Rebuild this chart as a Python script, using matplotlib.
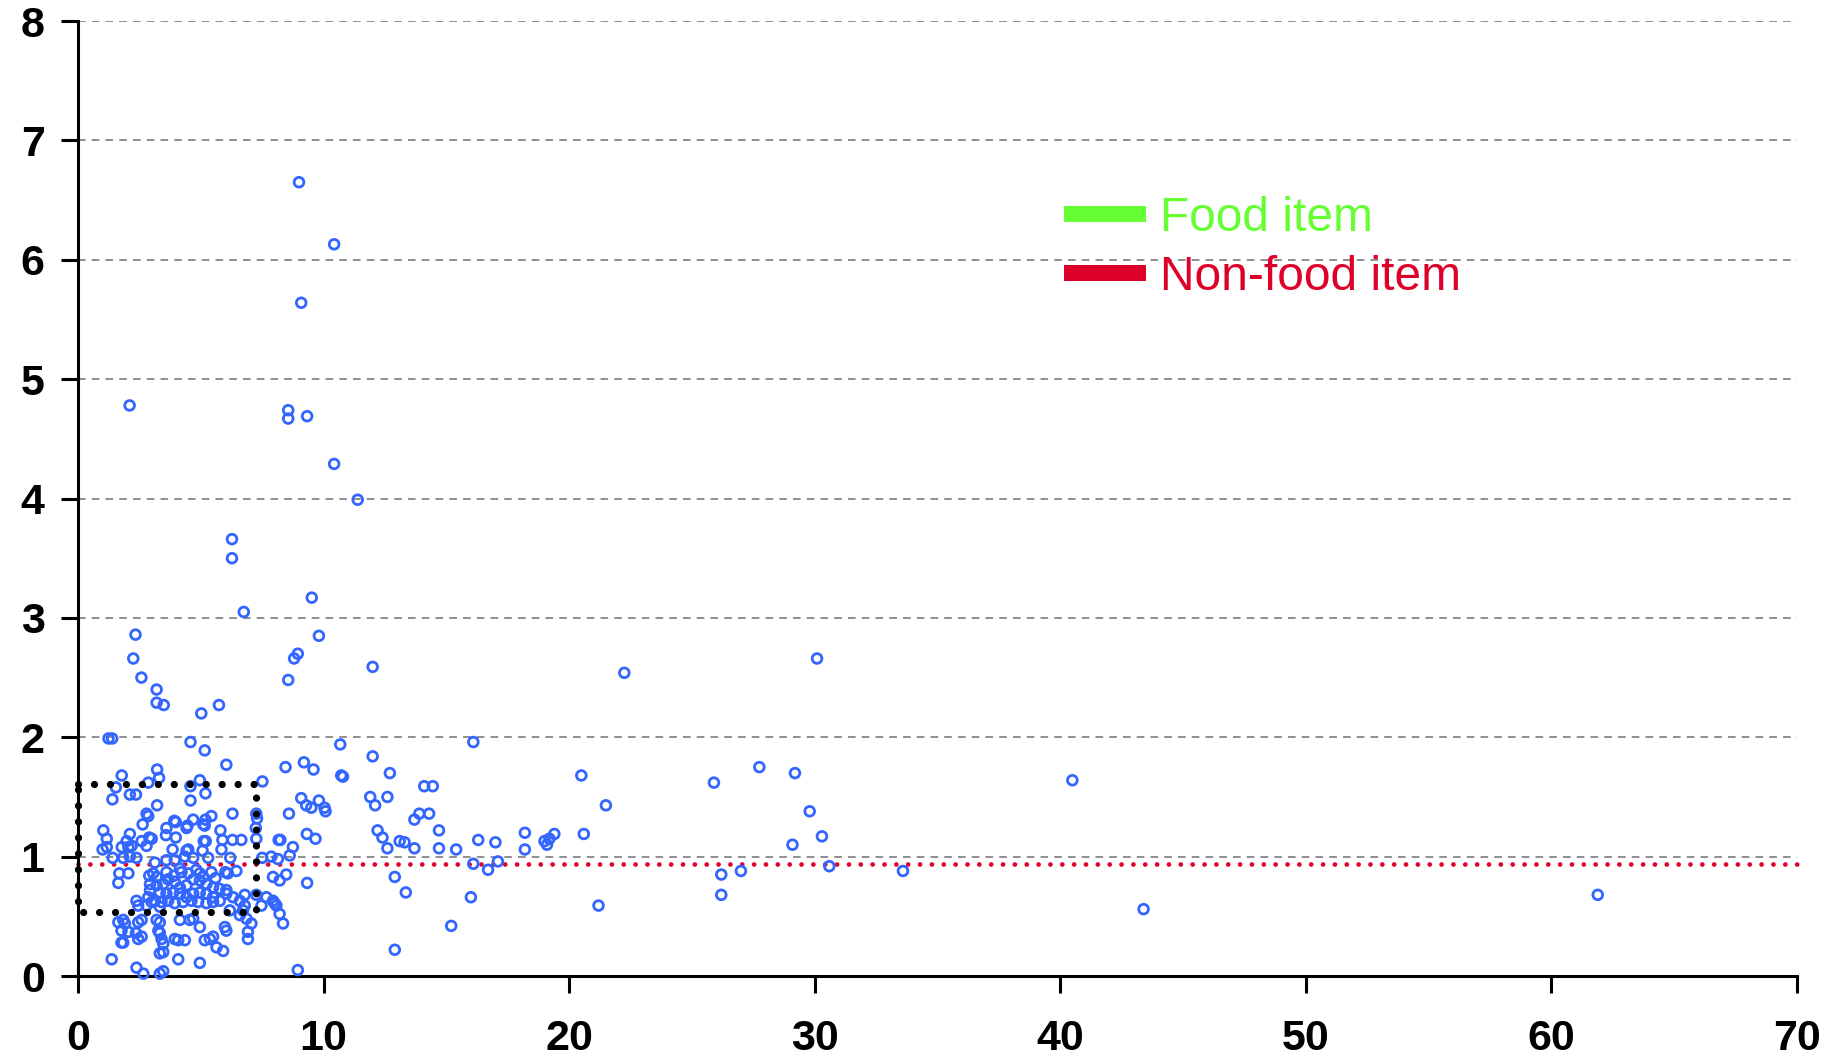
import matplotlib.pyplot as plt
from matplotlib.lines import Line2D

# scatter points (x, y)
points = [
    # high outliers
    (9.0, 6.65), (10.43, 6.13), (9.09, 5.64), (2.1, 4.78), (8.56, 4.74), (8.56, 4.67),
    (9.33, 4.69), (10.43, 4.29), (11.39, 3.99), (6.27, 3.66), (6.27, 3.50), (6.75, 3.05),
    (9.52, 3.17), (9.81, 2.85), (2.34, 2.86), (2.25, 2.66), (2.58, 2.50), (3.2, 2.40),
    (3.2, 2.29), (3.49, 2.27), (5.02, 2.20), (5.74, 2.27), (8.95, 2.70), (8.8, 2.66),
    (8.56, 2.48), (12.0, 2.59), (22.25, 2.54), (30.1, 2.66),
    # right side
    (16.1, 1.96), (12.7, 1.70), (20.5, 1.68), (21.5, 1.43), (25.9, 1.62), (27.75, 1.75),
    (29.2, 1.70), (29.8, 1.38), (30.3, 1.17), (29.1, 1.10), (30.6, 0.92), (33.6, 0.88),
    (40.5, 1.64), (43.4, 0.56), (61.9, 0.68), (26.2, 0.85), (26.2, 0.68), (27.0, 0.88),
    (21.2, 0.59), (20.6, 1.19), (19.4, 1.19), (19.2, 1.15), (19.0, 1.13), (19.1, 1.10),
    (18.2, 1.20), (18.2, 1.06), (17.1, 0.96), (17.0, 1.12), (16.3, 1.14), (16.1, 0.94),
    (16.7, 0.89), (16.0, 0.66), (15.2, 0.42), (15.4, 1.06), (14.7, 1.22), (14.7, 1.07),
    (14.45, 1.59), (14.1, 1.59), (14.3, 1.36), (13.9, 1.36), (13.7, 1.31), (13.3, 1.12),
    (13.7, 1.07), (13.1, 1.13), (13.35, 0.70), (12.9, 0.83), (12.9, 0.22), (12.6, 1.07),
    (12.4, 1.16), (12.2, 1.22), (11.9, 1.50), (12.1, 1.43), (12.6, 1.50), (8.95, 0.05),
    (9.33, 0.78),
    # cluster, upper part
    (1.24, 1.99), (1.39, 1.99), (4.58, 1.96), (5.16, 1.89), (6.04, 1.77), (10.68, 1.94),
    (12.0, 1.84), (3.22, 1.73), (3.30, 1.66), (1.78, 1.68), (1.54, 1.58), (2.86, 1.62),
    (4.58, 1.59), (4.96, 1.64), (5.19, 1.53), (4.58, 1.47), (1.40, 1.48), (2.11, 1.52),
    (2.36, 1.52), (7.51, 1.63), (8.45, 1.75), (9.2, 1.79), (9.59, 1.73), (10.72, 1.68),
    (10.79, 1.67), (3.22, 1.43), (2.79, 1.36), (2.86, 1.34), (2.63, 1.27), (3.6, 1.24),
    (3.92, 1.30), (3.98, 1.29), (4.42, 1.24), (4.46, 1.26), (4.69, 1.31), (5.19, 1.31),
    (5.43, 1.34), (5.1, 1.27), (5.16, 1.26), (5.8, 1.22), (6.29, 1.36), (7.26, 1.36),
    (7.29, 1.32), (7.24, 1.24), (7.26, 1.15), (8.59, 1.36), (9.09, 1.49), (9.29, 1.43),
    (9.5, 1.41), (9.81, 1.47), (10.04, 1.41), (10.08, 1.38), (9.32, 1.19), (9.67, 1.15),
    (1.03, 1.22), (1.17, 1.15), (1.0, 1.06), (1.17, 1.08), (2.11, 1.19), (1.98, 1.13),
    (1.78, 1.08), (2.05, 1.08), (2.18, 1.09), (2.59, 1.13), (2.9, 1.16), (3.0, 1.15),
    (2.79, 1.09), (3.58, 1.18), (3.98, 1.16), (3.85, 1.06), (4.42, 1.05), (4.49, 1.06),
    (5.12, 1.13), (5.2, 1.13), (5.07, 1.05), (5.88, 1.14), (6.29, 1.14), (6.65, 1.14),
    (5.84, 1.06), (6.2, 0.99), (7.5, 0.99), (7.87, 1.0), (8.14, 0.98), (8.17, 1.14),
    (8.24, 1.14), (8.75, 1.08), (8.62, 1.01), (1.41, 0.99), (1.84, 0.99), (2.11, 1.0),
    (2.38, 0.99), (3.13, 0.95), (3.6, 0.97), (3.94, 0.97), (4.35, 1.0), (4.69, 0.99),
    (5.3, 0.99),
    # cluster, around the red line
    (1.68, 0.86), (2.05, 0.86), (1.64, 0.78), (2.9, 0.84), (3.06, 0.86), (3.2, 0.83),
    (3.6, 0.87), (4.15, 0.90), (4.21, 0.87), (4.49, 0.86), (4.82, 0.89), (4.96, 0.86),
    (5.43, 0.87), (6.0, 0.87), (6.1, 0.86), (6.45, 0.88), (7.94, 0.83), (8.21, 0.80),
    (8.48, 0.85), (3.9, 0.84), (5.1, 0.83), (5.6, 0.82),
    # cluster, dense core
    (2.93, 0.77), (3.20, 0.76), (3.47, 0.77), (3.67, 0.81), (3.94, 0.79), (4.15, 0.74),
    (4.42, 0.76), (4.69, 0.81), (4.96, 0.80), (5.23, 0.77), (5.50, 0.74), (5.77, 0.73),
    (6.04, 0.72), (2.93, 0.72), (3.33, 0.70), (3.60, 0.69), (3.88, 0.70), (4.15, 0.69),
    (4.42, 0.66), (4.69, 0.69), (4.96, 0.70), (5.23, 0.69), (5.50, 0.66), (5.77, 0.63),
    (6.04, 0.69), (6.31, 0.66), (6.59, 0.63), (6.79, 0.68), (2.86, 0.66), (3.13, 0.63),
    (3.40, 0.62), (3.67, 0.63), (3.94, 0.61), (4.28, 0.62), (4.62, 0.63), (4.89, 0.62),
    (5.23, 0.61), (5.50, 0.62), (2.38, 0.63), (2.45, 0.59), (2.79, 0.59), (3.0, 0.62),
    (3.33, 0.58), (7.26, 0.68), (7.47, 0.59), (7.67, 0.66), (7.94, 0.63), (8.01, 0.61),
    (8.08, 0.59), (6.79, 0.59), (6.72, 0.55), (6.86, 0.48), (7.06, 0.44), (6.59, 0.51),
    # cluster, lower part
    (1.64, 0.45), (1.84, 0.47), (1.77, 0.38), (2.05, 0.37), (1.91, 0.44), (2.45, 0.45),
    (2.59, 0.47), (2.36, 0.36), (2.45, 0.31), (2.59, 0.33), (1.77, 0.28), (1.84, 0.28),
    (3.2, 0.47), (3.33, 0.45), (3.27, 0.38), (3.33, 0.36), (3.4, 0.31), (3.47, 0.27),
    (3.33, 0.19), (3.47, 0.20), (3.94, 0.31), (4.08, 0.30), (4.35, 0.30), (4.15, 0.47),
    (4.55, 0.47), (4.69, 0.48), (4.96, 0.41), (5.16, 0.30), (5.37, 0.31), (5.5, 0.33),
    (5.64, 0.24), (5.91, 0.21), (5.98, 0.41), (6.04, 0.38), (6.92, 0.37), (6.92, 0.31),
    (6.18, 0.55), (8.21, 0.52), (8.35, 0.44), (1.37, 0.14), (2.38, 0.07), (2.66, 0.02),
    (3.33, 0.02), (3.47, 0.04), (4.08, 0.14), (4.96, 0.11),
]
xs = [p[0] for p in points]
ys = [p[1] for p in points]

# red dotted reference line and black dotted box
ref_x = [0, 70]
ref_y = [0.94, 0.94]
box_x = [0, 7.24, 7.24, 0, 0]
box_y = [1.61, 1.61, 0.54, 0.54, 1.61]

legend_labels = ['Food item', 'Non-food item']
legend_colors = ['#66ff33', '#dd0028']

x_ticks = [0, 10, 20, 30, 40, 50, 60, 70]
y_ticks = [0, 1, 2, 3, 4, 5, 6, 7, 8]

plt.rcParams['font.family'] = ['Liberation Sans', 'DejaVu Sans']

fig = plt.figure(figsize=(18.41, 10.64), dpi=100)
ax = fig.add_axes([0.0424, 0.0827, 0.9335, 0.8975])

for y in y_ticks[1:]:
    ax.axhline(y, color='#707070', lw=1.1, dashes=(5, 4), zorder=1)

ax.plot(ref_x, ref_y, color='#e0002a', lw=3.4, linestyle=(0, (0.01, 2.5)),
        dash_capstyle='round', zorder=2, clip_on=False)
ax.plot(box_x, box_y, color='black', lw=5.2, linestyle=(0, (0.01, 2.2)),
        dash_capstyle='round', zorder=4, clip_on=False)

ax.scatter(xs, ys, s=7 ** 2, facecolors='none', edgecolors='#3366ff',
           linewidths=2.0, zorder=3, clip_on=False)

ax.set_xlim(0, 70)
ax.set_ylim(0, 8)
ax.set_xticks(x_ticks)
ax.set_yticks(y_ticks)
ax.tick_params(axis='both', direction='out', length=12, width=2.2, labelsize=31)
ax.tick_params(axis='x', pad=19)
ax.tick_params(axis='y', pad=12)
for lab in ax.get_xticklabels() + ax.get_yticklabels():
    lab.set_fontweight('bold')

for side in ['top', 'right']:
    ax.spines[side].set_visible(False)
for side in ['left', 'bottom']:
    ax.spines[side].set_linewidth(2.2)

handles = [Line2D([], [], color=c, lw=11.5, solid_capstyle='butt') for c in legend_colors]
leg = fig.legend(handles, legend_labels, loc='center left', bbox_to_anchor=(0.578, 0.767),
                 frameon=False, fontsize=34.5, handlelength=1.7, handletextpad=0.3,
                 labelspacing=0.3, borderpad=0, borderaxespad=0)
for txt, c in zip(leg.get_texts(), legend_colors):
    txt.set_color(c)

fig.savefig('out.png', dpi=100)
